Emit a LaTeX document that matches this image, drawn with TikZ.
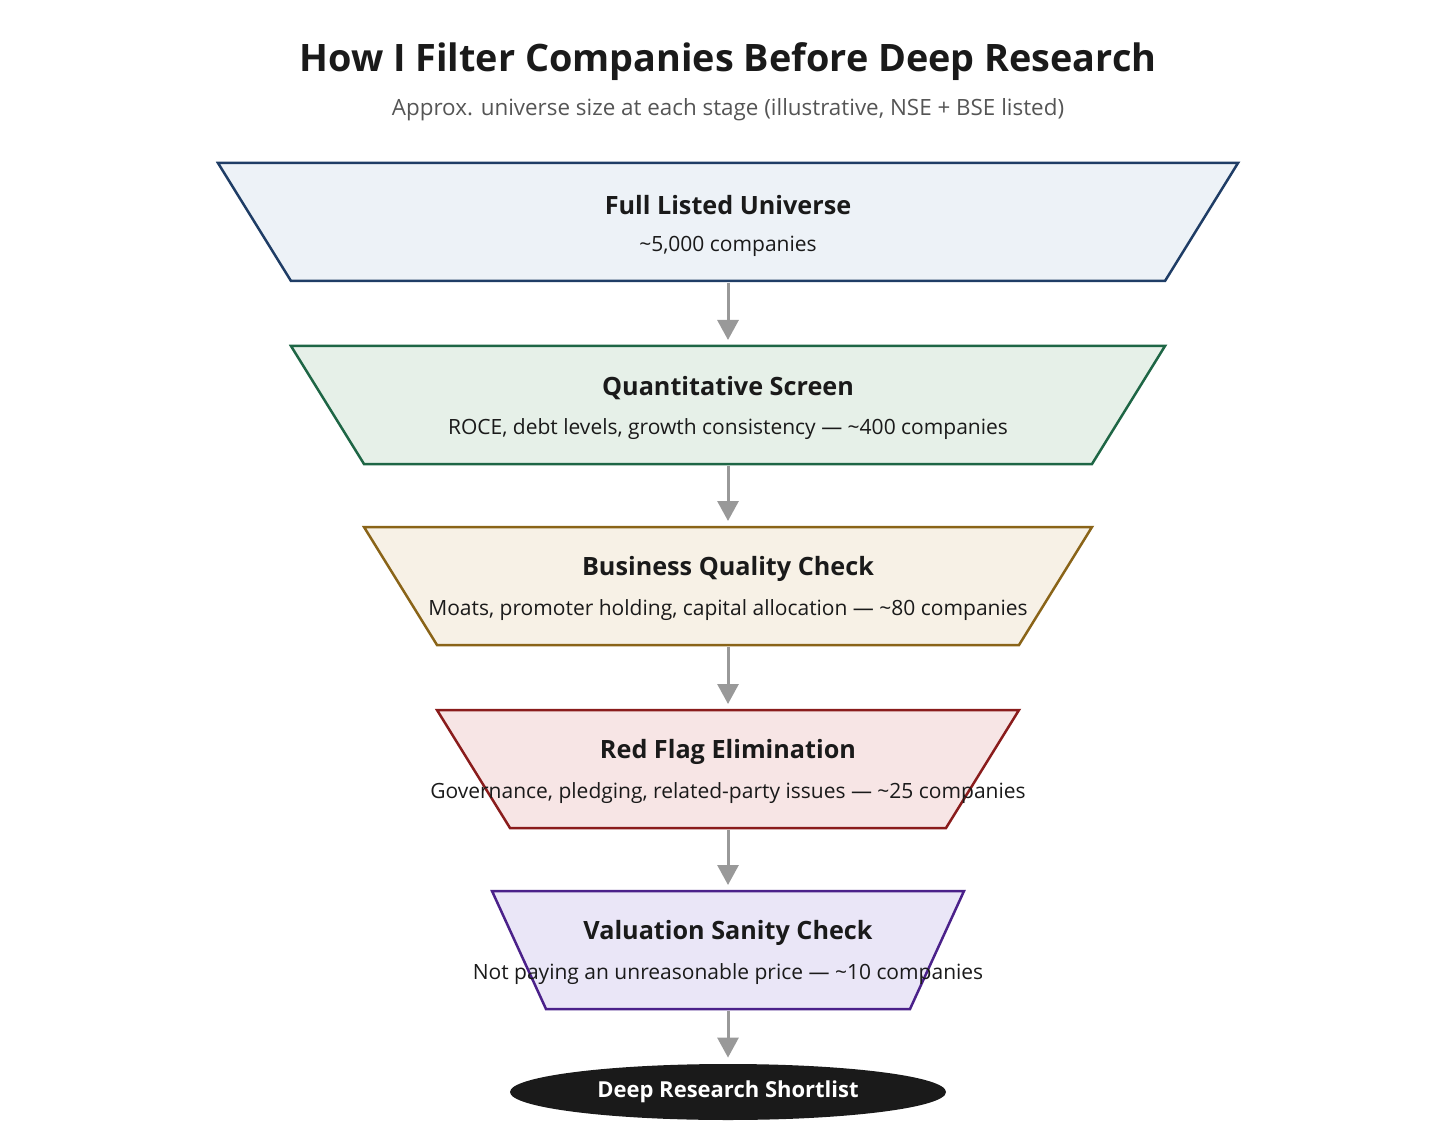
\documentclass[tikz,border=0pt]{standalone}
\usepackage{fontspec}
\setmainfont{Open Sans}
\usepackage{tikz}
\usetikzlibrary{arrows.meta}
\usetikzlibrary{shapes.geometric}
\definecolor{uniline}{HTML}{1F3D66}
\definecolor{unifill}{HTML}{EDF2F7}
\definecolor{quantline}{HTML}{1E6645}
\definecolor{quantfill}{HTML}{E6F0E8}
\definecolor{qualline}{HTML}{8A6418}
\definecolor{qualfill}{HTML}{F7F1E6}
\definecolor{flagline}{HTML}{8A1C1C}
\definecolor{flagfill}{HTML}{F7E5E5}
\definecolor{valline}{HTML}{4B218A}
\definecolor{valfill}{HTML}{EAE6F7}
\definecolor{arrowgray}{HTML}{999999}
\definecolor{inkblack}{HTML}{1A1A1A}
\definecolor{subgray}{HTML}{555555}
\tikzset{
  stagetitle/.style={font=\fontsize{12.6}{14}\selectfont\bfseries,text=inkblack},
  stagetext/.style={font=\fontsize{10.5}{12}\selectfont,text=inkblack},
  flow/.style={arrowgray,line width=1.5pt,-{Triangle[width=10.5pt,length=10pt]},shorten <=1pt,shorten >=3pt}
}
\newcommand{\drawstage}[8]{
  \draw[#5,fill=#6,line width=1.25pt] (728-#3,#2) -- (728+#3,#2) -- (728+#4,#2+118) -- (728-#4,#2+118) -- cycle;
  \coordinate (#1-top) at (728,#2);
  \coordinate (#1-bot) at (728,#2+118);
  \node[stagetitle] (#1-title) at (728,#2+42) {#7};
  \node[stagetext] (#1-text) at (728,#2+83) {#8};
}
\begin{document}
\begin{tikzpicture}[x=0.5pt,y=-0.5pt]
      \useasboundingbox (0,0) rectangle (1456,1128);
      \node[font=\fontsize{18.9}{22}\selectfont\bfseries,text=inkblack] (title) at (728,62) {How I Filter Companies Before Deep Research};
      \node[font=\fontsize{11.2}{13}\selectfont,text=subgray] (subtitle) at (728,110) {Approx. universe size at each stage (illustrative, NSE + BSE listed)};

      \drawstage{univ}{163}{510}{437}{uniline}{unifill}{Full Listed Universe}{\char`~5,000 companies}
      \drawstage{quant}{346}{437}{364}{quantline}{quantfill}{Quantitative Screen}{ROCE, debt levels, growth consistency --- \char`~400 companies}
      \drawstage{qual}{527}{364}{291}{qualline}{qualfill}{Business Quality Check}{Moats, promoter holding, capital allocation --- \char`~80 companies}
      \drawstage{flag}{710}{291}{218}{flagline}{flagfill}{Red Flag Elimination}{Governance, pledging, related-party issues --- \char`~25 companies}
      \drawstage{val}{891}{236}{182}{valline}{valfill}{Valuation Sanity Check}{Not paying an unreasonable price --- \char`~10 companies}

      \node[ellipse,fill=inkblack,minimum width=218pt,minimum height=28pt,inner sep=0pt,
            font=\fontsize{11}{12}\selectfont\bfseries,text=white] (final) at (728,1092) {Deep Research Shortlist};

      \draw[flow] (univ-bot) -- (quant-top);
      \draw[flow] (quant-bot) -- (qual-top);
      \draw[flow] (qual-bot) -- (flag-top);
      \draw[flow] (flag-bot) -- (val-top);
      \draw[flow] (val-bot) -- (final.north);
\end{tikzpicture}
\end{document}
